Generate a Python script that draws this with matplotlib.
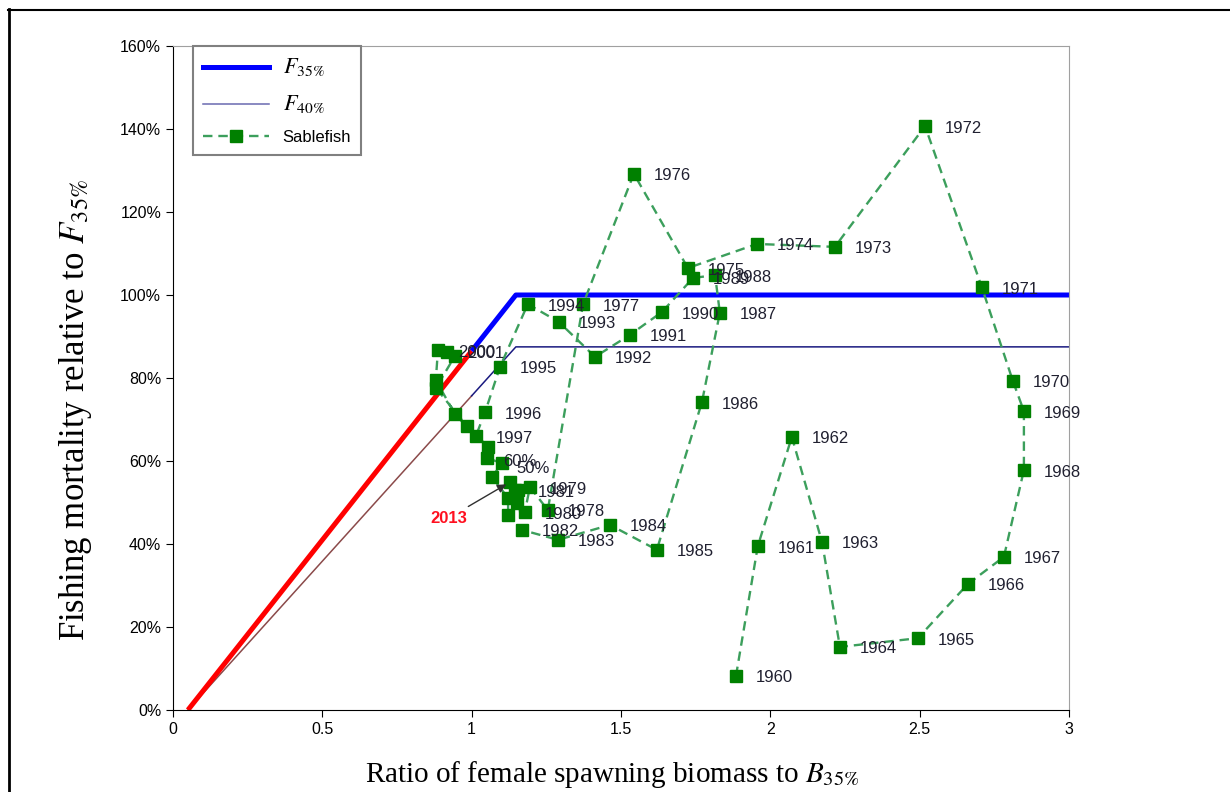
import matplotlib
matplotlib.use("Agg")
import matplotlib.pyplot as plt
from matplotlib.lines import Line2D

# --- data ---
years = list(range(1960, 2014))
b_ratio = [1.885, 1.958, 2.072, 2.173, 2.233, 2.494, 2.662, 2.782, 2.849, 2.849,
           2.812, 2.708, 2.518, 2.216, 1.955, 1.724, 1.543, 1.373, 1.255, 1.195,
           1.178, 1.155, 1.168, 1.289, 1.463, 1.620, 1.771, 1.831, 1.815, 1.741,
           1.637, 1.530, 1.413, 1.292, 1.188, 1.095, 1.045, 1.014, 0.944, 0.880,
           0.887, 0.917, 0.944, 0.880, 0.984, 1.055, 1.051, 1.101, 1.068, 1.122,
           1.122, 1.152, 1.145, 1.128]
f_ratio = [8.2, 39.5, 65.8, 40.5, 15.2, 17.3, 30.4, 36.9, 57.8, 72.0,
           79.3, 101.9, 140.7, 111.6, 112.3, 106.5, 129.2, 97.8, 48.2, 53.7,
           47.7, 53.0, 43.4, 41.0, 44.6, 38.6, 74.2, 95.7, 104.8, 104.1,
           95.9, 90.4, 85.1, 93.5, 97.8, 82.7, 71.8, 66.0, 71.3, 79.5,
           86.7, 86.3, 85.3, 77.6, 68.4, 63.4, 60.7, 59.5, 56.1, 51.1,
           47.0, 49.9, 53.0, 54.9]
labeled_years = list(range(1960, 1998)) + [2000, 2001]
stray_labels = ["60%", "50%"]
stray_x = [1.105, 1.150]
stray_y = [59.8, 58.3]

# harvest control rule
b_origin = 0.05
b_kink = 1.148
b_split = 1.0
f35_level = 100.0
f40_level = 87.5

x_ticks = [0, 0.5, 1, 1.5, 2, 2.5, 3]
x_tick_labels = ["0", "0.5", "1", "1.5", "2", "2.5", "3"]
y_ticks = [0, 20, 40, 60, 80, 100, 120, 140, 160]
y_tick_labels = ["0%", "20%", "40%", "60%", "80%", "100%", "120%", "140%", "160%"]

plt.rcParams["font.family"] = ["Liberation Sans", "DejaVu Sans"]
plt.rcParams["mathtext.fontset"] = "stix"

fig = plt.figure(figsize=(12.3, 7.92), dpi=100)
ax = fig.add_axes([173 / 1230, 1 - 710 / 792, 896 / 1230, 664 / 792])


def rule_y(b, level):
    return level * (b - b_origin) / (b_kink - b_origin)


# --- control rules ---
ax.plot([b_origin, b_split], [0, rule_y(b_split, f40_level)], color="#8b4a4a", lw=1.1)
ax.plot([b_split, b_kink, 3], [rule_y(b_split, f40_level), f40_level, f40_level],
        color="#1a1a80", lw=1.1)
ax.plot([b_origin, b_split], [0, rule_y(b_split, f35_level)], color="#ff0000", lw=3.6,
        solid_capstyle="butt")
ax.plot([b_split, b_kink, 3], [rule_y(b_split, f35_level), f35_level, f35_level],
        color="#0000ff", lw=3.6, solid_capstyle="butt")

# --- sablefish trajectory ---
ax.plot(b_ratio, f_ratio, color="#3c9f5c", lw=1.7, ls=(0, (4, 2.5)),
        marker="s", ms=8.5, mfc="#008000", mec="#008000", zorder=3)

for yr, bx, fy in zip(years, b_ratio, f_ratio):
    if yr in labeled_years:
        ax.annotate(str(yr), (bx, fy), xytext=(20, -2), textcoords="offset pixels",
                    fontsize=12, color="#202030", va="center", ha="left", zorder=4)
for txt, sx, sy in zip(stray_labels, stray_x, stray_y):
    ax.text(sx, sy, txt, fontsize=12, color="#202030", va="center", ha="left", zorder=4)

ax.annotate("2013", (b_ratio[-1], f_ratio[-1]), xytext=(-80, -36), textcoords="offset pixels",
            fontsize=12, fontweight="bold", color="#ff1020", va="center", ha="left",
            arrowprops=dict(arrowstyle="-|>", color="#303030", lw=1.0, shrinkA=2, shrinkB=3,
                            mutation_scale=13))

# --- axes styling ---
ax.set_xlim(0, 3)
ax.set_ylim(0, 160)
ax.set_xticks(x_ticks)
ax.set_xticklabels(x_tick_labels)
ax.set_yticks(y_ticks)
ax.set_yticklabels(y_tick_labels)
ax.tick_params(direction="out", length=5, labelsize=11.5, colors="black")
for side in ("top", "right"):
    ax.spines[side].set_color("#a0a0a0")
for side in ("left", "bottom"):
    ax.spines[side].set_color("black")

ax.set_xlabel("Ratio of female spawning biomass to $B_{35\\%}$", family="Liberation Serif",
              fontsize=21)
ax.xaxis.set_label_coords(0.49, -0.074)
ax.set_ylabel("Fishing mortality relative to $F_{35\\%}$", family="Liberation Serif",
              fontsize=25)
ax.yaxis.set_label_coords(-0.088, 0.452)

handles = [
    Line2D([], [], color="#0000ff", lw=3.6),
    Line2D([], [], color="#6a6ab0", lw=1.1),
    Line2D([], [], color="#3c9f5c", lw=1.7, ls=(0, (4, 2.5)), marker="s", ms=8.5,
           mfc="#008000", mec="#008000"),
]
leg = ax.legend(handles, ["$F_{35\\%}$", "$F_{40\\%}$", "Sablefish"], loc="upper left",
                bbox_to_anchor=(0.022, 1.0), borderaxespad=0, fancybox=False,
                edgecolor="#808080", framealpha=1, fontsize=12, handlelength=4,
                labelspacing=0.9, borderpad=0.6)
leg.get_frame().set_linewidth(1.5)
for t in leg.get_texts()[:2]:
    t.set_fontsize(16)

# outer frame of the original page
fig.add_artist(Line2D([8 / 1230, 1], [1 - 10 / 792, 1 - 10 / 792], color="black", lw=1.5))
fig.add_artist(Line2D([9 / 1230, 9 / 1230], [0, 1 - 9 / 792], color="black", lw=2))

fig.savefig("out.png", dpi=100)
